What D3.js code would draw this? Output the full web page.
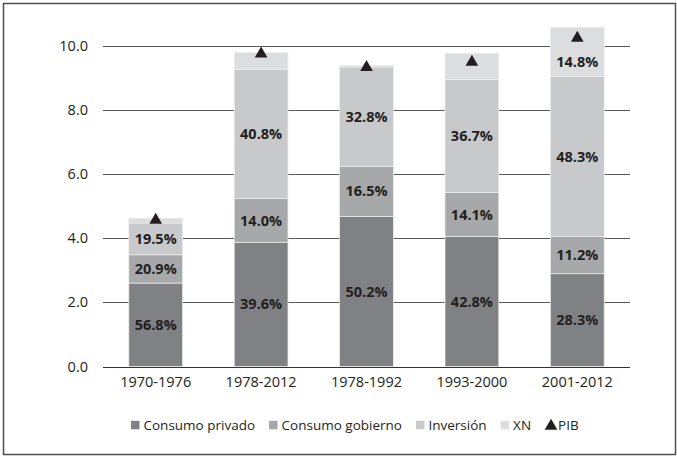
<!DOCTYPE html>
<html>
<head>
<meta charset="utf-8">
<script src="https://cdn.jsdelivr.net/npm/d3@7"></script>
<style>
  body { margin: 0; background: #fff; }
  text { font-family: "Open Sans", sans-serif; fill: #231f20; }
</style>
</head>
<body>
<div id="chart"></div>
<script>
// data
var categories = ["1970-1976", "1978-2012", "1978-1992", "1993-2000", "2001-2012"];
var privado   = [2.60, 3.87, 4.67, 4.05, 2.89];
var gobierno  = [0.88, 1.36, 1.57, 1.37, 1.16];
var inversion = [0.99, 4.03, 3.09, 3.52, 4.98];
var xn        = [0.15, 0.52, 0.05, 0.82, 1.54];
var pib       = [4.56, 9.74, 9.32, 9.48, 10.23];

var lblPrivado   = ["56.8%", "39.6%", "50.2%", "42.8%", "28.3%"];
var lblGobierno  = ["20.9%", "14.0%", "16.5%", "14.1%", "11.2%"];
var lblInversion = ["19.5%", "40.8%", "32.8%", "36.7%", "48.3%"];
var lblXn        = ["", "", "", "", "14.8%"];

var yTicks = [0, 2, 4, 6, 8, 10];
var seriesNames = ["Consumo privado", "Consumo gobierno", "Inversión", "XN"];
var colors = ["#808184", "#a7a8aa", "#c8c9cb", "#dcdddf"];

var W = 677, H = 457;
var margin = {top: 45.5, left: 103, right: 47, bottom: 90.5};

var svg = d3.select("#chart")
    .append("svg")
        .attr("width", W)
        .attr("height", H);

// frame
svg.append("rect")
    .attr("x", 3.5)
    .attr("y", 3.5)
    .attr("width", 672)
    .attr("height", 451)
    .attr("fill", "none")
    .attr("stroke", "#4d4d4d")
    .attr("stroke-width", 1.5);

var x = d3.scaleBand()
    .domain(categories)
    .range([margin.left, W - margin.right])
    .paddingInner(0.49)
    .paddingOuter(0.245);

var y = d3.scaleLinear()
    .domain([0, 10])
    .range([H - margin.bottom, margin.top]);

// grid lines
svg.append("g")
    .selectAll("line")
    .data(yTicks)
    .enter()
    .append("line")
    .attr("x1", margin.left)
    .attr("x2", W - margin.right)
    .attr("y1", function(d) { return Math.round(y(d)) + 0.5; })
    .attr("y2", function(d) { return Math.round(y(d)) + 0.5; })
    .attr("stroke", function(d) { return d == 0 ? "#333" : "#5a5a5a"; })
    .attr("stroke-width", 1.2);

// Y labels
svg.append("g")
    .selectAll("text")
    .data(yTicks)
    .enter()
    .append("text")
    .attr("x", margin.left - 15)
    .attr("y", function(d) { return y(d); })
    .attr("dy", "0.35em")
    .attr("text-anchor", "end")
    .attr("font-size", "14.5px")
    .text(function(d) { return d3.format(".1f")(d); });

// X labels
svg.append("g")
    .selectAll("text")
    .data(categories)
    .enter()
    .append("text")
    .attr("x", function(d) { return x(d) + x.bandwidth() / 2; })
    .attr("y", y(0) + 15)
    .attr("dy", "0.35em")
    .attr("text-anchor", "middle")
    .attr("font-size", "14.5px")
    .text(function(d) { return d; });

// stack the series
var table = categories.map(function(c, i) {
    return {cat: c, s0: privado[i], s1: gobierno[i], s2: inversion[i], s3: xn[i]};
});
var labels = [lblPrivado, lblGobierno, lblInversion, lblXn];
var stacked = d3.stack().keys(["s0", "s1", "s2", "s3"])(table);

var layer = svg.append("g")
    .selectAll("g")
    .data(stacked)
    .enter()
    .append("g")
    .attr("fill", function(d, i) { return colors[i]; });

layer.selectAll("rect")
    .data(function(d) { return d; })
    .enter()
    .append("rect")
    .attr("x", function(d) { return x(d.data.cat); })
    .attr("y", function(d) { return y(d[1]); })
    .attr("width", x.bandwidth())
    .attr("height", function(d) { return y(d[0]) - y(d[1]); })
    .attr("stroke", "#eeeeee")
    .attr("stroke-width", 0.7);

// percent labels
stacked.forEach(function(s, k) {
    svg.append("g")
        .selectAll("text")
        .data(s)
        .enter()
        .append("text")
        .attr("x", function(d) { return x(d.data.cat) + x.bandwidth() / 2; })
        .attr("y", function(d, i) {
            var c = (y(d[0]) + y(d[1])) / 2;
            return k == 3 ? c + 10 : c;
        })
        .attr("dy", "0.35em")
        .attr("text-anchor", "middle")
        .attr("font-size", "14.5px")
        .attr("font-weight", "bold")
        .text(function(d, i) { return labels[k][i]; });
});

// PIB markers
var tri = d3.symbol().type(d3.symbolTriangle).size(70);
svg.append("g")
    .selectAll("path")
    .data(pib)
    .enter()
    .append("path")
    .attr("d", tri)
    .attr("transform", function(d, i) {
        return "translate(" + (x(categories[i]) + x.bandwidth() / 2) + "," + y(d) + ")";
    })
    .attr("fill", "#231f20");

// legend
var legend = svg.append("g");
var lx = 131, ly = 425;
seriesNames.forEach(function(n, i) {
    legend.append("rect")
        .attr("x", lx)
        .attr("y", ly - 4.2)
        .attr("width", 8.5)
        .attr("height", 8.5)
        .attr("fill", colors[i]);
    var t = legend.append("text")
        .attr("x", lx + 12.5)
        .attr("y", ly)
        .attr("dy", "0.35em")
        .attr("font-size", "13.5px")
        .text(n);
    lx = lx + 12.5 + t.node().getComputedTextLength() + 14;
});
legend.append("path")
    .attr("d", tri)
    .attr("transform", "translate(" + (lx + 6) + "," + (ly + 1) + ")")
    .attr("fill", "#231f20");
legend.append("text")
    .attr("x", lx + 13)
    .attr("y", ly)
    .attr("dy", "0.35em")
    .attr("font-size", "13.5px")
    .text("PIB");
</script>
</body>
</html>
